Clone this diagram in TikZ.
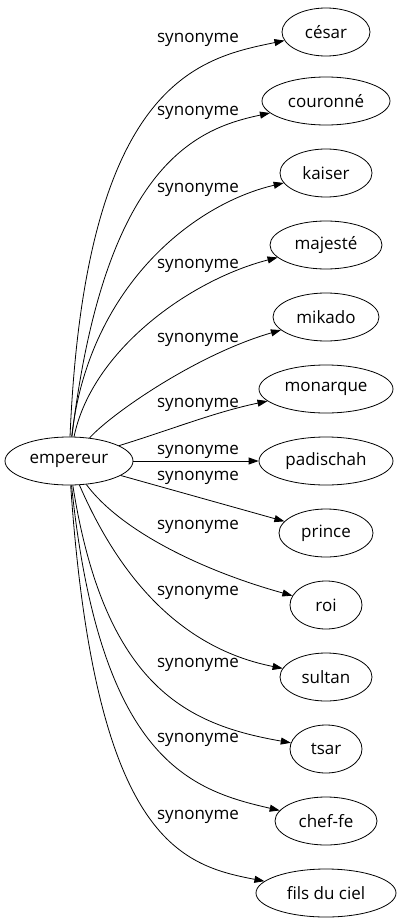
\documentclass[tikz,border=0pt]{standalone}
\usepackage{fontspec}
\setmainfont{Open Sans}
\usetikzlibrary{shapes.geometric,arrows.meta}

\begin{document}
\begin{tikzpicture}[x=1pt,y=-1pt,font=\fontsize{17}{20}\selectfont,
  word/.style={draw,ellipse,inner sep=0pt,minimum height=48pt,line width=0.8pt},
  rel/.style={inner sep=0pt},
  syn/.style={-{Triangle[length=10pt,width=7pt]},line width=0.8pt}]
  \useasboundingbox (0,0) rectangle (400,923);

  % source
  \node[word,minimum width=128pt] (emp) at (69,461) {empereur};

  % synonyms, one column
  \node[word,minimum width=88pt]  (cesar)  at (326,32)  {césar};
  \node[word,minimum width=128pt] (couro)  at (326,101) {couronné};
  \node[word,minimum width=92pt]  (kaiser) at (326,173) {kaiser};
  \node[word,minimum width=112pt] (majes)  at (326,245) {majesté};
  \node[word,minimum width=106pt] (mikado) at (326,317) {mikado};
  \node[word,minimum width=134pt] (monar)  at (326,389) {monarque};
  \node[word,minimum width=134pt] (padis)  at (326,461) {padischah};
  \node[word,minimum width=94pt]  (prince) at (326,533) {prince};
  \node[word,minimum width=72pt]  (roi)    at (326,605) {roi};
  \node[word,minimum width=92pt]  (sultan) at (326,677) {sultan};
  \node[word,minimum width=72pt]  (tsar)   at (326,749) {tsar};
  \node[word,minimum width=102pt] (chef)   at (326,821) {chef-fe};
  \node[word,minimum width=140pt] (fils)   at (326,893) {fils du ciel};

  % edge labels
  \node[rel] (l1)  at (198,40)  {synonyme};
  \node[rel] (l2)  at (198,113) {synonyme};
  \node[rel] (l3)  at (198,190) {synonyme};
  \node[rel] (l4)  at (198,266) {synonyme};
  \node[rel] (l5)  at (198,340) {synonyme};
  \node[rel] (l6)  at (198,405) {synonyme};
  \node[rel] (l7)  at (198,452) {synonyme};
  \node[rel] (l8)  at (198,478) {synonyme};
  \node[rel] (l9)  at (198,527) {synonyme};
  \node[rel] (l10) at (198,593) {synonyme};
  \node[rel] (l11) at (198,665) {synonyme};
  \node[rel] (l12) at (198,740) {synonyme};
  \node[rel] (l13) at (198,817) {synonyme};

  % edges going up
  \draw[syn] (emp) .. controls (85,80) and (200,58) .. (cesar);
  \draw[syn] (emp) .. controls (105,160) and (200,128) .. (couro);
  \draw[syn] (emp) .. controls (88,290) and (190,205) .. (kaiser);
  \draw[syn] (emp) .. controls (92,350) and (190,280) .. (majes);
  \draw[syn] (emp) .. controls (110,415) and (195,355) .. (mikado);
  \draw[syn] (emp) .. controls (170,430) and (215,412) .. (monar);
  % edges across
  \draw[syn] (emp) -- (padis);
  \draw[syn] (emp) -- (prince);
  % edges going down
  \draw[syn] (emp) .. controls (120,530) and (200,570) .. (roi);
  \draw[syn] (emp) .. controls (125,590) and (190,650) .. (sultan);
  \draw[syn] (emp) .. controls (105,690) and (190,725) .. (tsar);
  \draw[syn] (emp) .. controls (100,760) and (190,790) .. (chef);
  \draw[syn] (emp) .. controls (95,840) and (180,865) .. (fils);
\end{tikzpicture}
\end{document}
